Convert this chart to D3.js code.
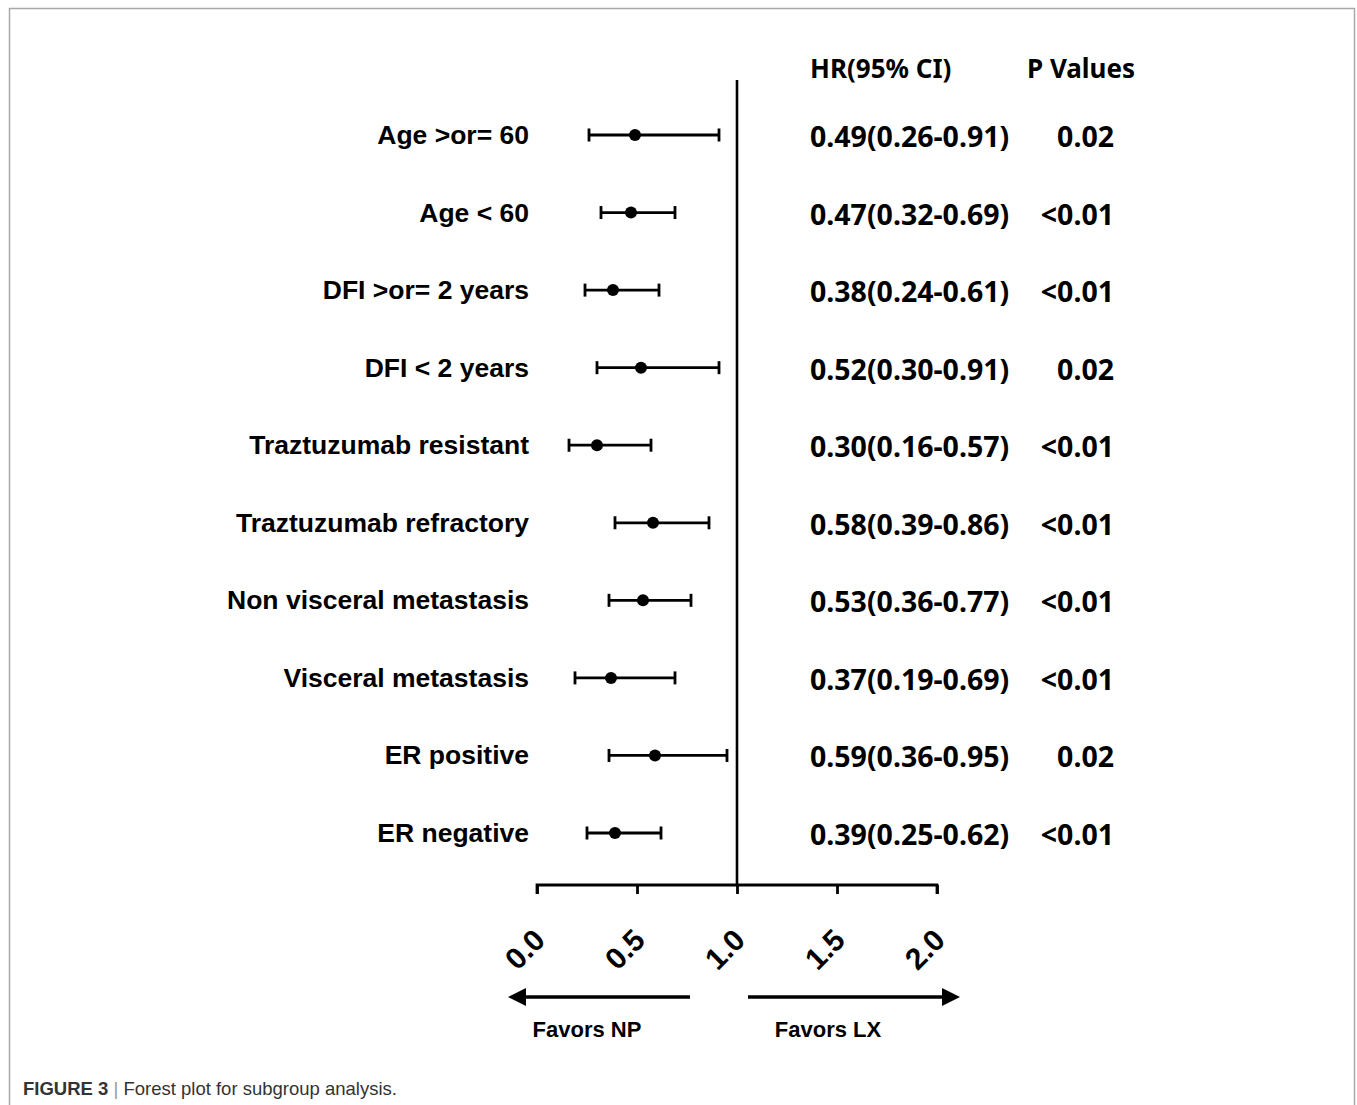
<!DOCTYPE html>
<html><head><meta charset="utf-8">
<script src="https://cdn.jsdelivr.net/npm/d3@7"></script>
<style>body{margin:0;background:#fff;}svg{display:block;}</style>
</head><body>
<script>
const categories = ["Age >or= 60","Age < 60","DFI >or= 2 years","DFI < 2 years","Traztuzumab resistant","Traztuzumab refractory","Non visceral metastasis","Visceral metastasis","ER positive","ER negative"];
const hr = [0.49,0.47,0.38,0.52,0.30,0.58,0.53,0.37,0.59,0.39];
const lower = [0.26,0.32,0.24,0.30,0.16,0.39,0.36,0.19,0.36,0.25];
const upper = [0.91,0.69,0.61,0.91,0.57,0.86,0.77,0.69,0.95,0.62];
const hrText = ["0.49(0.26-0.91)","0.47(0.32-0.69)","0.38(0.24-0.61)","0.52(0.30-0.91)","0.30(0.16-0.57)","0.58(0.39-0.86)","0.53(0.36-0.77)","0.37(0.19-0.69)","0.59(0.36-0.95)","0.39(0.25-0.62)"];
const pValues = ["0.02","<0.01","<0.01","0.02","<0.01","<0.01","<0.01","<0.01","0.02","<0.01"];
const tickValues = [0,0.5,1,1.5,2];

const W=1357,H=1105;
const svg=d3.select("body").append("svg").attr("width",W).attr("height",H);
svg.append("rect").attr("x",9.5).attr("y",8.5).attr("width",1345).attr("height",1110)
  .attr("fill","none").attr("stroke","#a8a8a8").attr("stroke-width",1.5);

const x=d3.scaleLinear().domain([0,2]).range([537,937]);
const y=d3.scalePoint().domain(categories).range([135,833]);
const axisY=885;

// vertical reference line
svg.append("line").attr("x1",x(1)).attr("x2",x(1)).attr("y1",80).attr("y2",axisY).attr("stroke","#000").attr("stroke-width",2.6);

// axis
const ax=svg.append("g").attr("transform",`translate(0,${axisY})`)
  .call(d3.axisBottom(x).tickValues(tickValues).tickSize(9).tickFormat(d3.format(".1f")));
ax.attr("font-size",null);
ax.select(".domain").attr("stroke","#000").attr("stroke-width",2.8).attr("d",`M${x(0)},9V0H${x(2)}V9`);
ax.selectAll(".tick line").attr("stroke","#000").attr("stroke-width",2.8);
ax.selectAll(".tick text").attr("font-family","Liberation Sans, Arial, sans-serif").attr("font-weight","bold")
  .style("font-size","30px").attr("fill","#000").attr("text-anchor","middle")
  .attr("transform","translate(-13,64) rotate(-45)").attr("y",0).attr("dy","0.36em");

// rows
const rows=svg.append("g");
categories.forEach((c,i)=>{
  const yy=y(c);
  rows.append("line").attr("x1",x(lower[i])).attr("x2",x(upper[i])).attr("y1",yy).attr("y2",yy).attr("stroke","#000").attr("stroke-width",2.8);
  [lower[i],upper[i]].forEach(v=>rows.append("line").attr("x1",x(v)).attr("x2",x(v)).attr("y1",yy-6.5).attr("y2",yy+6.5).attr("stroke","#000").attr("stroke-width",2.8));
  rows.append("circle").attr("cx",x(hr[i])).attr("cy",yy).attr("r",6).attr("fill","#000");
  rows.append("text").attr("x",529).attr("y",yy+9).attr("text-anchor","end")
    .attr("font-family","Liberation Sans, Arial, sans-serif").attr("font-weight","bold").attr("font-size",26.5).text(c);
  rows.append("text").attr("x",810).attr("y",yy+12).attr("font-family","Noto Sans, sans-serif").attr("font-weight","bold").attr("font-size",28.5).text(hrText[i]);
  rows.append("text").attr("x",1114).attr("y",yy+12).attr("text-anchor","end").attr("font-family","Noto Sans, sans-serif").attr("font-weight","bold").attr("font-size",28.5).text(pValues[i]);
});

// headers
svg.append("text").attr("x",810).attr("y",78).attr("font-family","Noto Sans, sans-serif").attr("font-weight","bold").attr("font-size",26).text("HR(95% CI)");
svg.append("text").attr("x",1027).attr("y",78).attr("font-family","Noto Sans, sans-serif").attr("font-weight","bold").attr("font-size",26).text("P Values");

// arrows
const arrowY=997;
svg.append("line").attr("x1",690).attr("x2",522).attr("y1",arrowY).attr("y2",arrowY).attr("stroke","#000").attr("stroke-width",3.5);
svg.append("path").attr("d",`M508,${arrowY}L526,${arrowY-9}L526,${arrowY+9}Z`).attr("fill","#000");
svg.append("line").attr("x1",748).attr("x2",945).attr("y1",arrowY).attr("y2",arrowY).attr("stroke","#000").attr("stroke-width",3.5);
svg.append("path").attr("d",`M960,${arrowY}L942,${arrowY-9}L942,${arrowY+9}Z`).attr("fill","#000");
svg.append("text").attr("x",587).attr("y",1037).attr("text-anchor","middle").attr("font-family","Liberation Sans, Arial, sans-serif").attr("font-weight","bold").attr("font-size",22).text("Favors NP");
svg.append("text").attr("x",828).attr("y",1037).attr("text-anchor","middle").attr("font-family","Liberation Sans, Arial, sans-serif").attr("font-weight","bold").attr("font-size",22).text("Favors LX");

// caption
const cap=svg.append("text").attr("x",23).attr("y",1095).attr("font-family","Liberation Sans, Arial, sans-serif").attr("font-size",18.5).attr("fill","#333");
cap.append("tspan").attr("font-weight","bold").text("FIGURE 3");
cap.append("tspan").attr("fill","#999").text(" | ");
cap.append("tspan").text("Forest plot for subgroup analysis.");
</script>
</body></html>
